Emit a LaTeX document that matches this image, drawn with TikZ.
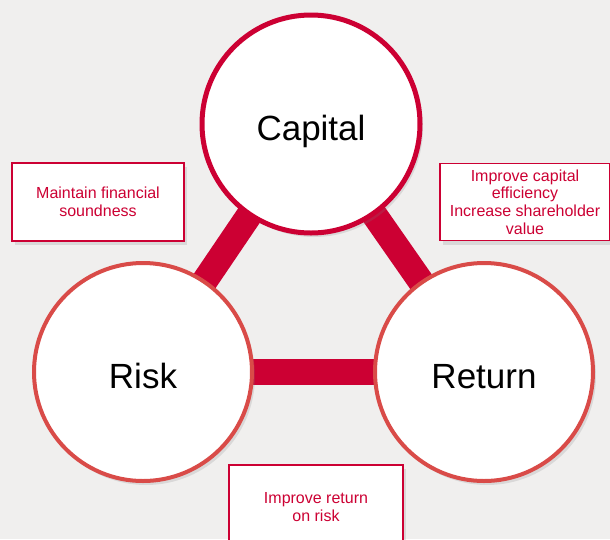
\documentclass[tikz,border=0pt]{standalone}
\usepackage{fontspec}
\setmainfont{Liberation Sans}
\usetikzlibrary{shadows,backgrounds}
\definecolor{crimson}{RGB}{204,0,51}
\definecolor{riskred}{RGB}{217,75,72}
\definecolor{paper}{RGB}{240,239,238}
\tikzstyle{hub}=[circle, minimum size=218pt, inner sep=0pt, fill=white, text height=32pt, text depth=0pt, font=\fontsize{35}{42}\selectfont, drop shadow={shadow xshift=3pt, shadow yshift=-4pt, opacity=.2}]
\tikzstyle{goal}=[rectangle, draw=crimson, line width=1.3pt, fill=white, text=crimson, align=center, inner sep=0pt, font=\fontsize{16}{17.7}\selectfont, drop shadow={shadow xshift=3pt, shadow yshift=-4pt, opacity=.2}]
\tikzstyle{bar}=[crimson, line width=26pt]

\begin{document}
\begin{tikzpicture}[x=1pt, y=-1pt]
    \useasboundingbox (0,0) rectangle (610,539);
    \clip (0,0) rectangle (610,539);
    \node[hub, draw=crimson, line width=5pt] (cap) at (311,124) {Capital};
    \node[hub, draw=riskred, line width=4pt] (risk) at (143,372) {Risk};
    \node[hub, draw=riskred, line width=4pt] (ret) at (484,372) {Return};
    \node[goal, minimum width=172pt, minimum height=78pt] (sound) at (98,202)
      {Maintain financial\\soundness};
    \node[goal, minimum width=170pt, minimum height=77pt] (effic) at (525,202)
      {Improve capital\\efficiency\\Increase shareholder\\value};
    \node[goal, minimum width=174pt, minimum height=84pt] (onrisk) at (316,507)
      {Improve return\\on risk};
    \begin{scope}[on background layer]
      \fill[paper] (0,0) rectangle (610,539);
      \foreach \from/\to in {cap/risk, cap/ret, risk/ret}
        \draw[bar] (\from.center) -- (\to.center);
    \end{scope}
\end{tikzpicture}
\end{document}
